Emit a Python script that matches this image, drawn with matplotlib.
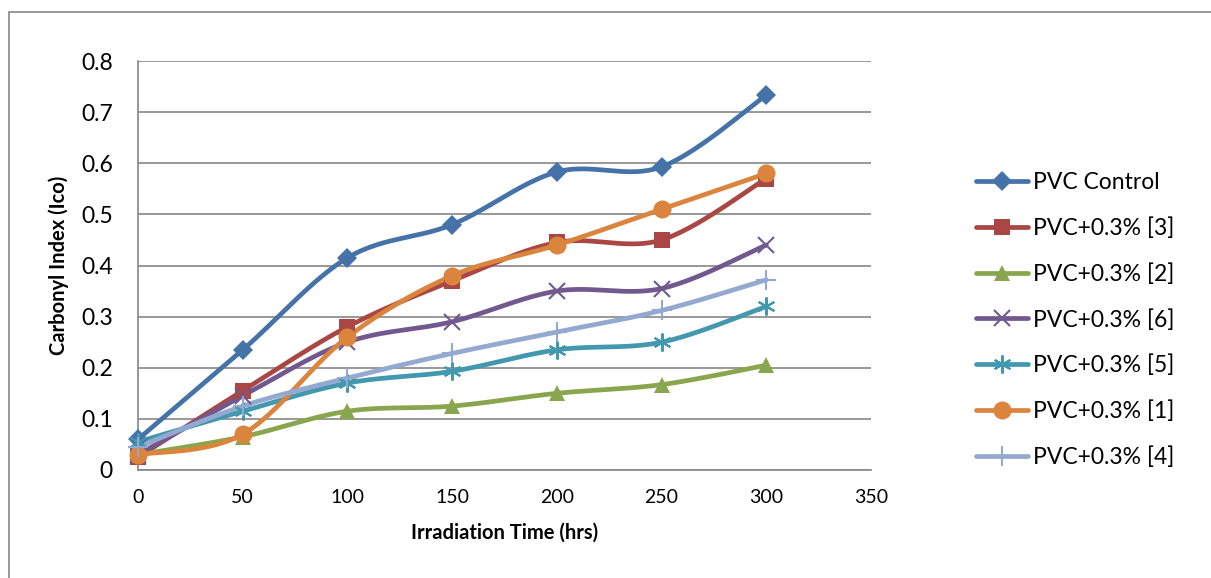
import numpy as np
import matplotlib
matplotlib.use('Agg')
import matplotlib.pyplot as plt
from matplotlib.patches import Rectangle

plt.rcParams['font.family'] = ['Lato', 'DejaVu Sans']

# data
hours = [0, 50, 100, 150, 200, 250, 300]
series_names = ['PVC Control', 'PVC+0.3% [3]', 'PVC+0.3% [2]', 'PVC+0.3% [6]',
                'PVC+0.3% [5]', 'PVC+0.3% [1]', 'PVC+0.3% [4]']
control = [0.06, 0.235, 0.415, 0.48, 0.583, 0.593, 0.733]
s3 = [0.025, 0.155, 0.28, 0.37, 0.445, 0.45, 0.57]
s2 = [0.03, 0.065, 0.115, 0.125, 0.15, 0.167, 0.205]
s6 = [0.03, 0.145, 0.25, 0.29, 0.35, 0.355, 0.44]
s5 = [0.055, 0.115, 0.17, 0.193, 0.235, 0.25, 0.32]
s1 = [0.03, 0.07, 0.26, 0.38, 0.44, 0.51, 0.58]
s4 = [0.045, 0.125, 0.18, 0.228, 0.27, 0.312, 0.372]
all_series = [control, s3, s2, s6, s5, s1, s4]

colors = ['#4572A7', '#AA4643', '#89A54E', '#71588F', '#4198AF', '#DB843D', '#93A9CF']
markers = ['D', 's', '^', 'x', (6, 2, 0), 'o', '+']
msizes = [10, 11, 11, 11, 13, 13, 14]


def smooth(x, y, n=30):
    # catmull-rom like excel "smoothed line"
    x = np.asarray(x, float)
    y = np.asarray(y, float)
    px = np.concatenate([[x[0]], x, [x[-1]]])
    py = np.concatenate([[y[0]], y, [y[-1]]])
    xs, ys = [], []
    for i in range(1, len(px) - 2):
        p0 = np.array([px[i - 1], py[i - 1]])
        p1 = np.array([px[i], py[i]])
        p2 = np.array([px[i + 1], py[i + 1]])
        p3 = np.array([px[i + 2], py[i + 2]])
        c1 = p1 + (p2 - p0) / 6
        c2 = p2 - (p3 - p1) / 6
        t = np.linspace(0, 1, n)[:, None]
        b = (1 - t) ** 3 * p1 + 3 * (1 - t) ** 2 * t * c1 + 3 * (1 - t) * t ** 2 * c2 + t ** 3 * p2
        xs.extend(b[:, 0])
        ys.extend(b[:, 1])
    return xs, ys


fig = plt.figure(figsize=(12.11, 5.78), dpi=100)
W, H = 1211, 578
ax = fig.add_axes([138 / W, 1 - 470 / H, (871 - 138) / W, (470 - 61) / H])

# outer chart border
fig.patches.append(Rectangle((9 / W, -0.1), 1.2, 1 - 12 / H + 0.1, transform=fig.transFigure,
                             fill=False, edgecolor='#868686', lw=1.2))

handles = []
for name, vals, c, m, ms in zip(series_names, all_series, colors, markers, msizes):
    sx, sy = smooth(hours, vals)
    ax.plot(sx, sy, color=c, lw=3.4, solid_capstyle='round', zorder=3)
    mew = 1.5 if m in ('x', '+') or isinstance(m, tuple) else 0
    ax.plot(hours, vals, ls='none', marker=m, ms=ms, color=c, mec=c, mew=mew, zorder=4)
    h, = ax.plot([], [], color=c, lw=3.4, marker=m, ms=ms, mec=c, mew=mew,
                 solid_capstyle='round')
    handles.append(h)

ax.set_xlim(0, 350)
ax.set_ylim(0, 0.8)
ax.set_xticks(np.arange(0, 351, 50))
ax.set_yticks(np.arange(0, 0.81, 0.1))
ax.set_yticklabels(['0'] + ['%.1f' % v for v in np.arange(0.1, 0.81, 0.1)])
ax.tick_params(axis='y', labelsize=16.5, length=0, pad=18)
ax.tick_params(axis='x', labelsize=14, length=0, pad=14)
ax.grid(axis='y', color='#868686', lw=1.2)
ax.set_axisbelow(True)
for s in ['top', 'right']:
    ax.spines[s].set_visible(False)
for s in ['left', 'bottom']:
    ax.spines[s].set_color('#868686')
    ax.spines[s].set_linewidth(1.2)
for ln in ax.lines:
    ln.set_clip_on(False)

ax.set_xlabel('Irradiation Time (hrs)', fontsize=14.5, fontweight='bold', labelpad=12)
ax.set_ylabel('Carbonyl Index (Ico)', fontsize=14.5, fontweight='bold', labelpad=9)

fig.legend(handles, series_names, loc='center left', bbox_to_anchor=(955 / W, 1 - 320 / H),
           frameon=False, fontsize=16.5, handlelength=2.3, labelspacing=1.05,
           handletextpad=0.2)

fig.savefig('out.png', dpi=100)
